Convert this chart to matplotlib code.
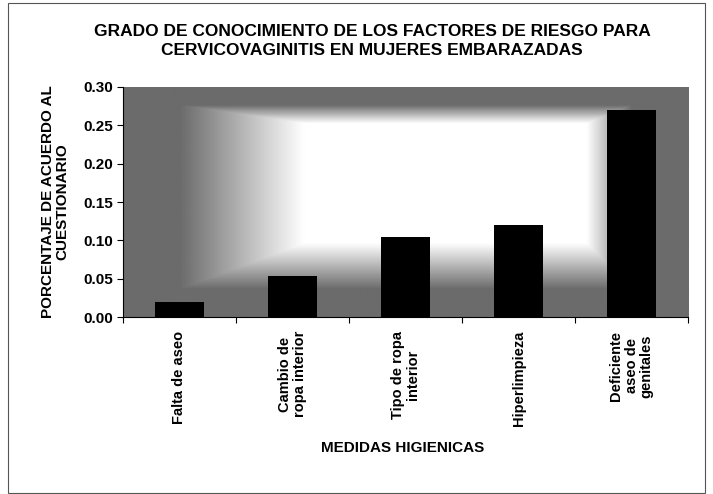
import matplotlib.pyplot as plt
import numpy as np

# -------------------------------------------------
# Data
# -------------------------------------------------

categorias = [
    "Falta de aseo",
    "Cambio de\nropa interior",
    "Tipo de ropa\ninterior",
    "Hiperlimpieza",
    "Deficiente\naseo de\ngenitales",
]
porcentajes = [0.020, 0.054, 0.104, 0.120, 0.270]
yticks = [0.00, 0.05, 0.10, 0.15, 0.20, 0.25, 0.30]

# -------------------------------------------------
# Plot
# -------------------------------------------------

plt.rcParams["font.family"] = ["Liberation Sans", "DejaVu Sans"]
plt.rcParams["font.weight"] = "bold"

fig = plt.figure(figsize=(7.13, 4.94), dpi=100)
ax = fig.add_axes([0.1725, 0.358, 0.7925, 0.466])

# Shaded background (grey at the edges, white in the middle)
gx = np.linspace(0, 1, 400)
gy = np.linspace(0, 1, 200)
X, Y = np.meshgrid(gx, gy)
fx = np.clip(np.minimum((X - 0.10) / 0.22, (0.90 - X) / 0.08), 0, 1)
fy = np.clip(np.minimum((Y - 0.12) / 0.20, (0.92 - Y) / 0.08), 0, 1)
shade = 0.42 + 0.58 * np.minimum(fx, fy)
ax.imshow(shade, cmap="gray", vmin=0, vmax=1, origin="lower",
          extent=[0, 1, 0, 1], transform=ax.transAxes, aspect="auto",
          zorder=0)

x = np.arange(len(categorias))
ax.bar(x, porcentajes, width=0.44, color="black", zorder=2)

ax.set_xlim(-0.5, len(categorias) - 0.5)
ax.set_ylim(0, 0.30)
ax.set_yticks(yticks)
ax.set_yticklabels([f"{v:.2f}" for v in yticks], fontsize=11, fontweight="bold")
ax.set_xticks(np.arange(len(categorias) + 1) - 0.5)
ax.set_xticklabels([])
ax.tick_params(axis="x", length=4, direction="out")
ax.tick_params(axis="y", length=4, direction="out", pad=3)
for i, cat in enumerate(categorias):
    ax.text(i, -0.06, cat, rotation=90, ha="center", va="top",
            fontsize=10.5, fontweight="bold", multialignment="center",
            linespacing=1.1, transform=ax.get_xaxis_transform(),
            clip_on=False)

for side in ["top", "right"]:
    ax.spines[side].set_visible(False)

ax.set_ylabel("PORCENTAJE DE ACUERDO AL\nCUESTIONARIO", fontsize=11,
              fontweight="bold", labelpad=10, linespacing=1.1)
fig.text(0.565, 0.093, "MEDIDAS HIGIENICAS", ha="center", va="center",
         fontsize=11, fontweight="bold")
fig.text(0.522, 0.917, "GRADO DE CONOCIMIENTO DE LOS FACTORES DE RIESGO PARA\n"
         "CERVICOVAGINITIS EN MUJERES EMBARAZADAS",
         ha="center", va="center", fontsize=12.5, fontweight="bold",
         linespacing=1.4)

# Chart frame
fig.patches.append(plt.Rectangle((0.011, 0.002), 0.978, 0.992, fill=False,
                                 edgecolor="#555555", linewidth=0.8,
                                 transform=fig.transFigure))

fig.savefig("out.png", dpi=100)
